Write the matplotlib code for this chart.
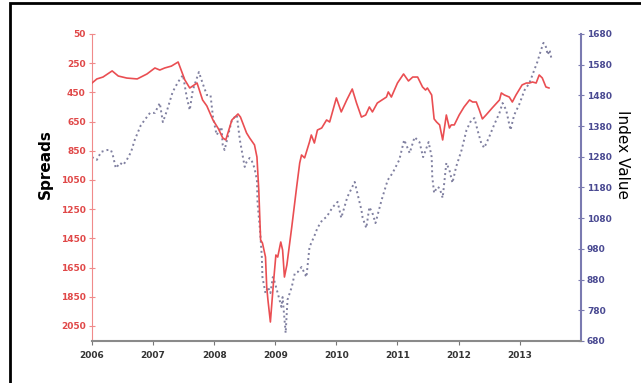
import numpy as np
import matplotlib
matplotlib.use('Agg')
from matplotlib import pyplot as plt
from matplotlib.patches import Rectangle

# spreads (left axis, inverted)
spread_year = [2006.00, 2006.08, 2006.18, 2006.33, 2006.43, 2006.57, 2006.74, 2006.90, 2007.03,
               2007.11, 2007.19, 2007.30, 2007.41, 2007.52, 2007.60, 2007.72, 2007.81, 2007.88,
               2007.98, 2008.07, 2008.14, 2008.19, 2008.29, 2008.39, 2008.43, 2008.53, 2008.58,
               2008.66, 2008.70, 2008.73, 2008.76, 2008.79, 2008.84, 2008.86, 2008.88, 2008.92,
               2008.97, 2009.01, 2009.04, 2009.09, 2009.12, 2009.15, 2009.19, 2009.27, 2009.35,
               2009.40, 2009.43, 2009.48, 2009.51, 2009.56, 2009.59, 2009.64, 2009.69, 2009.76,
               2009.84, 2009.89, 2010.00, 2010.08, 2010.17, 2010.26, 2010.33, 2010.41, 2010.48,
               2010.54, 2010.59, 2010.67, 2010.82, 2010.85, 2010.90, 2011.00, 2011.10, 2011.18,
               2011.25, 2011.33, 2011.41, 2011.46, 2011.49, 2011.56, 2011.60, 2011.64, 2011.69,
               2011.74, 2011.80, 2011.85, 2011.88, 2011.93, 2012.01, 2012.09, 2012.18, 2012.23,
               2012.29, 2012.34, 2012.39, 2012.45, 2012.55, 2012.67, 2012.70, 2012.75, 2012.83,
               2012.88, 2012.94, 2013.04, 2013.11, 2013.16, 2013.21, 2013.27, 2013.32, 2013.37,
               2013.43, 2013.48]
spreads = [386, 358, 345, 303, 338, 352, 358, 324, 283,
           297, 283, 270, 242, 365, 420, 386, 502, 543,
           639, 700, 762, 776, 639, 598, 619, 728, 762,
           810, 893, 1119, 1461, 1482, 1578, 1783, 1872, 2023,
           1756, 1564, 1578, 1475, 1530, 1715, 1632, 1372, 1098,
           934, 879, 899, 858, 790, 742, 797, 708, 694,
           639, 653, 488, 584, 502, 427, 523, 619, 605,
           550, 584, 523, 482, 447, 482, 386, 324, 372,
           345, 345, 413, 434, 420, 468, 632, 653, 673,
           776, 605, 694, 673, 673, 605, 550, 502, 516,
           516, 571, 632, 605, 557, 502, 454, 468, 482,
           516, 468, 399, 386, 386, 379, 386, 331, 351,
           413, 420]

# index value (right axis)
index_year = [2006.00, 2006.08, 2006.15, 2006.25, 2006.31, 2006.34, 2006.39, 2006.46, 2006.51,
              2006.57, 2006.64, 2006.70, 2006.80, 2006.90, 2006.95, 2007.03, 2007.11, 2007.16,
              2007.23, 2007.32, 2007.41, 2007.49, 2007.55, 2007.60, 2007.65, 2007.75, 2007.81,
              2007.88, 2007.94, 2007.98, 2008.04, 2008.12, 2008.14, 2008.17, 2008.29, 2008.37,
              2008.42, 2008.50, 2008.53, 2008.58, 2008.61, 2008.66, 2008.70, 2008.71, 2008.75,
              2008.78, 2008.79, 2008.84, 2008.88, 2008.92, 2008.96, 2008.99, 2009.04, 2009.10,
              2009.12, 2009.17, 2009.20, 2009.27, 2009.32, 2009.37, 2009.43, 2009.51, 2009.56,
              2009.64, 2009.69, 2009.77, 2009.84, 2009.94, 2010.02, 2010.08, 2010.18, 2010.30,
              2010.35, 2010.41, 2010.43, 2010.49, 2010.54, 2010.59, 2010.64, 2010.74, 2010.84,
              2010.92, 2011.03, 2011.11, 2011.20, 2011.28, 2011.36, 2011.42, 2011.51, 2011.56,
              2011.57, 2011.60, 2011.65, 2011.69, 2011.74, 2011.80, 2011.85, 2011.90, 2011.96,
              2012.05, 2012.13, 2012.21, 2012.26, 2012.31, 2012.37, 2012.42, 2012.50, 2012.58,
              2012.67, 2012.72, 2012.78, 2012.85, 2012.91, 2012.99, 2013.08, 2013.16, 2013.24,
              2013.29, 2013.35, 2013.39, 2013.43, 2013.46, 2013.49, 2013.52]
index_value = [1279, 1270, 1296, 1302, 1302, 1286, 1243, 1260, 1253,
               1270, 1296, 1335, 1383, 1410, 1423, 1423, 1455, 1393,
               1432, 1491, 1524, 1546, 1475, 1432, 1497, 1556, 1520,
               1481, 1481, 1410, 1351, 1377, 1318, 1302, 1400, 1416,
               1335, 1247, 1263, 1276, 1270, 1243, 1204, 1129, 1042,
               954, 888, 836, 856, 836, 888, 872, 836, 791,
               823, 706, 814, 856, 901, 905, 921, 888, 986,
               1022, 1048, 1074, 1084, 1116, 1133, 1081, 1149, 1198,
               1156, 1107, 1081, 1048, 1116, 1097, 1064, 1139, 1204,
               1227, 1270, 1335, 1292, 1344, 1328, 1279, 1328, 1279,
               1214, 1162, 1182, 1178, 1146, 1260, 1237, 1195, 1247,
               1302, 1367, 1400, 1406, 1367, 1325, 1309, 1344, 1383,
               1423, 1455, 1432, 1367, 1416, 1449, 1497, 1520, 1563,
               1589, 1628, 1651, 1638, 1612, 1628, 1600]

years = [2006, 2007, 2008, 2009, 2010, 2011, 2012, 2013]
spread_ticks = [50, 250, 450, 650, 850, 1050, 1250, 1450, 1650, 1850, 2050]
index_ticks = [680, 780, 880, 980, 1080, 1180, 1280, 1380, 1480, 1580, 1680]

red = '#ea4e52'
blue = '#4a4a78'

fig = plt.figure(figsize=(6.41, 3.83), dpi=100)
ax = fig.add_axes([0.1435, 0.1097, 0.7625, 0.8016])
ax2 = ax.twinx()

ax.plot(spread_year, spreads, color=red, lw=1.2, zorder=3)
ax2.plot(index_year, index_value, color=blue, lw=1.4, ls=(0, (1, 1.6)), alpha=0.7)
ax.set_zorder(ax2.get_zorder() + 1)
ax.patch.set_visible(False)

ax.set_xlim(2006, 2014)
ax.set_ylim(2153, 50)
ax2.set_ylim(680, 1680)

ax.set_xticks(years)
ax.set_yticks(spread_ticks)
ax2.set_yticks(index_ticks)

for a in (ax, ax2):
    a.spines['top'].set_visible(False)
ax.spines['right'].set_visible(False)
ax.spines['left'].set_color('#f08a8a')
ax.spines['bottom'].set_color('#8a8a8a')
ax.spines['bottom'].set_linewidth(1.5)
ax2.spines['left'].set_visible(False)
ax2.spines['bottom'].set_visible(False)
ax2.spines['right'].set_color('#7a7ab0')
ax2.spines['right'].set_linewidth(1.5)

ax.tick_params(axis='y', direction='inout', length=5, colors='#f08a8a',
               labelcolor='#e04848', labelsize=6.5, pad=2)
ax.tick_params(axis='x', direction='out', length=3, color='#777777',
               labelcolor='#333333', labelsize=6.5, pad=4)
ax2.tick_params(axis='y', direction='inout', length=5, colors='#7a7ab0',
                labelcolor='#4a4a92', labelsize=6.5, pad=2)
for lab in ax.get_xticklabels() + ax.get_yticklabels() + ax2.get_yticklabels():
    lab.set_fontweight('bold')

fig.text(45 / 641, 1 - 164 / 383, 'Spreads', rotation=90, ha='center', va='center',
         fontsize=11, fontweight='bold', color='black')
fig.text(622 / 641, 1 - 155 / 383, 'Index Value', rotation=270, ha='center', va='center',
         fontsize=11, color='black')

# screenshot frame
fig.add_artist(Rectangle((10 / 641, -0.05), 1.2, 1.05 - 3 / 383, transform=fig.transFigure,
                         fill=False, ec='black', lw=2))

fig.savefig('out.png', dpi=100, facecolor='white')
